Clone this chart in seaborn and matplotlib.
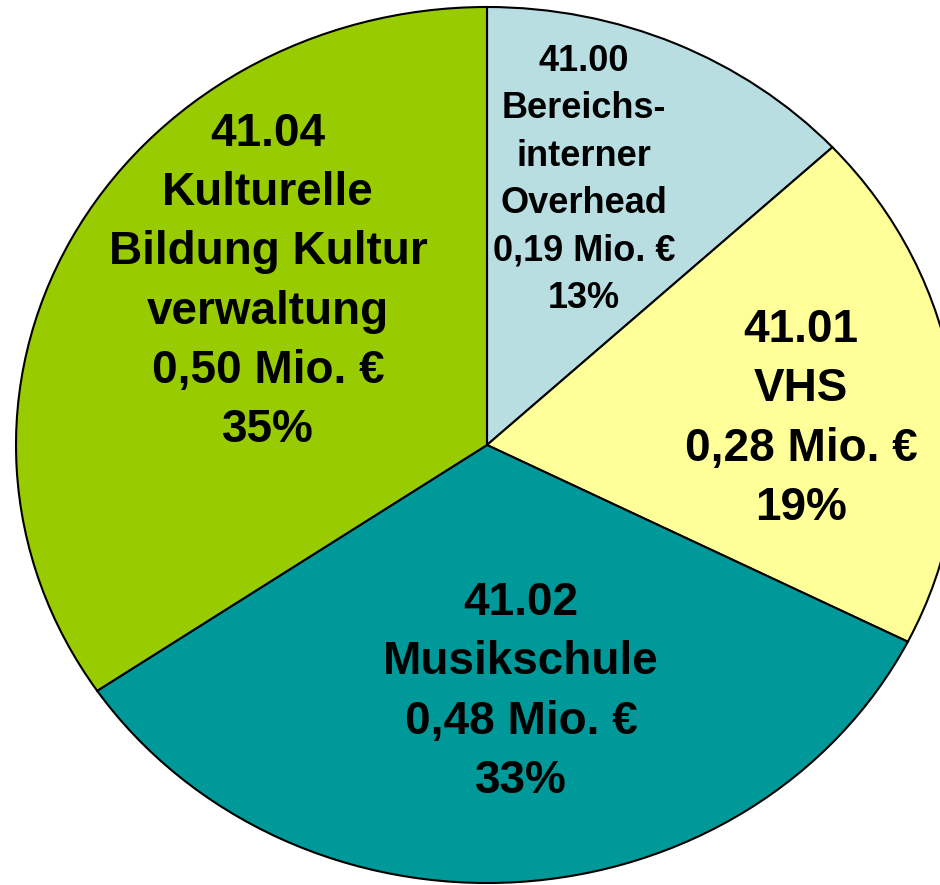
import matplotlib
matplotlib.use("Agg")
import matplotlib.pyplot as plt
import seaborn as sns

# data
codes = ["41.00", "41.01", "41.02", "41.04"]
names = ["Bereichs-\ninterner\nOverhead", "VHS", "Musikschule", "Kulturelle\nBildung Kultur\nverwaltung"]
mio_eur = [0.19, 0.28, 0.48, 0.50]
pct_labels = ["13%", "19%", "33%", "35%"]
amount_labels = ["0,19 Mio. \u20ac", "0,28 Mio. \u20ac", "0,48 Mio. \u20ac", "0,50 Mio. \u20ac"]

colors = ["#B8DEE2", "#FFFF99", "#009999", "#99CC00"]

sns.set_style("white")
plt.rcParams["font.family"] = ["Liberation Sans", "DejaVu Sans"]
plt.rcParams["text.color"] = "black"

fig = plt.figure(figsize=(9.4, 8.85), dpi=100)
# pie centre ~ (487, 445) px, radius ~471 x 438 px (slightly stretched)
ax = fig.add_axes([16 / 940, 2 / 885, 942 / 940, 876 / 885])
ax.pie(mio_eur, colors=colors, startangle=90, counterclock=False,
       wedgeprops=dict(edgecolor="black", linewidth=1.5))
ax.set_xlim(-1, 1)
ax.set_ylim(-1, 1)
ax.set_aspect("auto")
ax.axis("off")

# label centres in pixels (x, y from top), sizes, spacing
label_pos = [(584, 180), (801, 419), (521, 692), (268, 282)]
label_size = [26, 33, 33, 33]
label_spacing = [1.46, 1.45, 1.45, 1.45]

for i in range(len(codes)):
    txt = f"{codes[i]}\n{names[i]}\n{amount_labels[i]}\n{pct_labels[i]}"
    x, y = label_pos[i]
    fig.text(x / 940, 1 - y / 885, txt, ha="center", va="center", color="black",
             fontsize=label_size[i], fontweight="bold", linespacing=label_spacing[i],
             multialignment="center")

fig.savefig("out.png", dpi=100)
